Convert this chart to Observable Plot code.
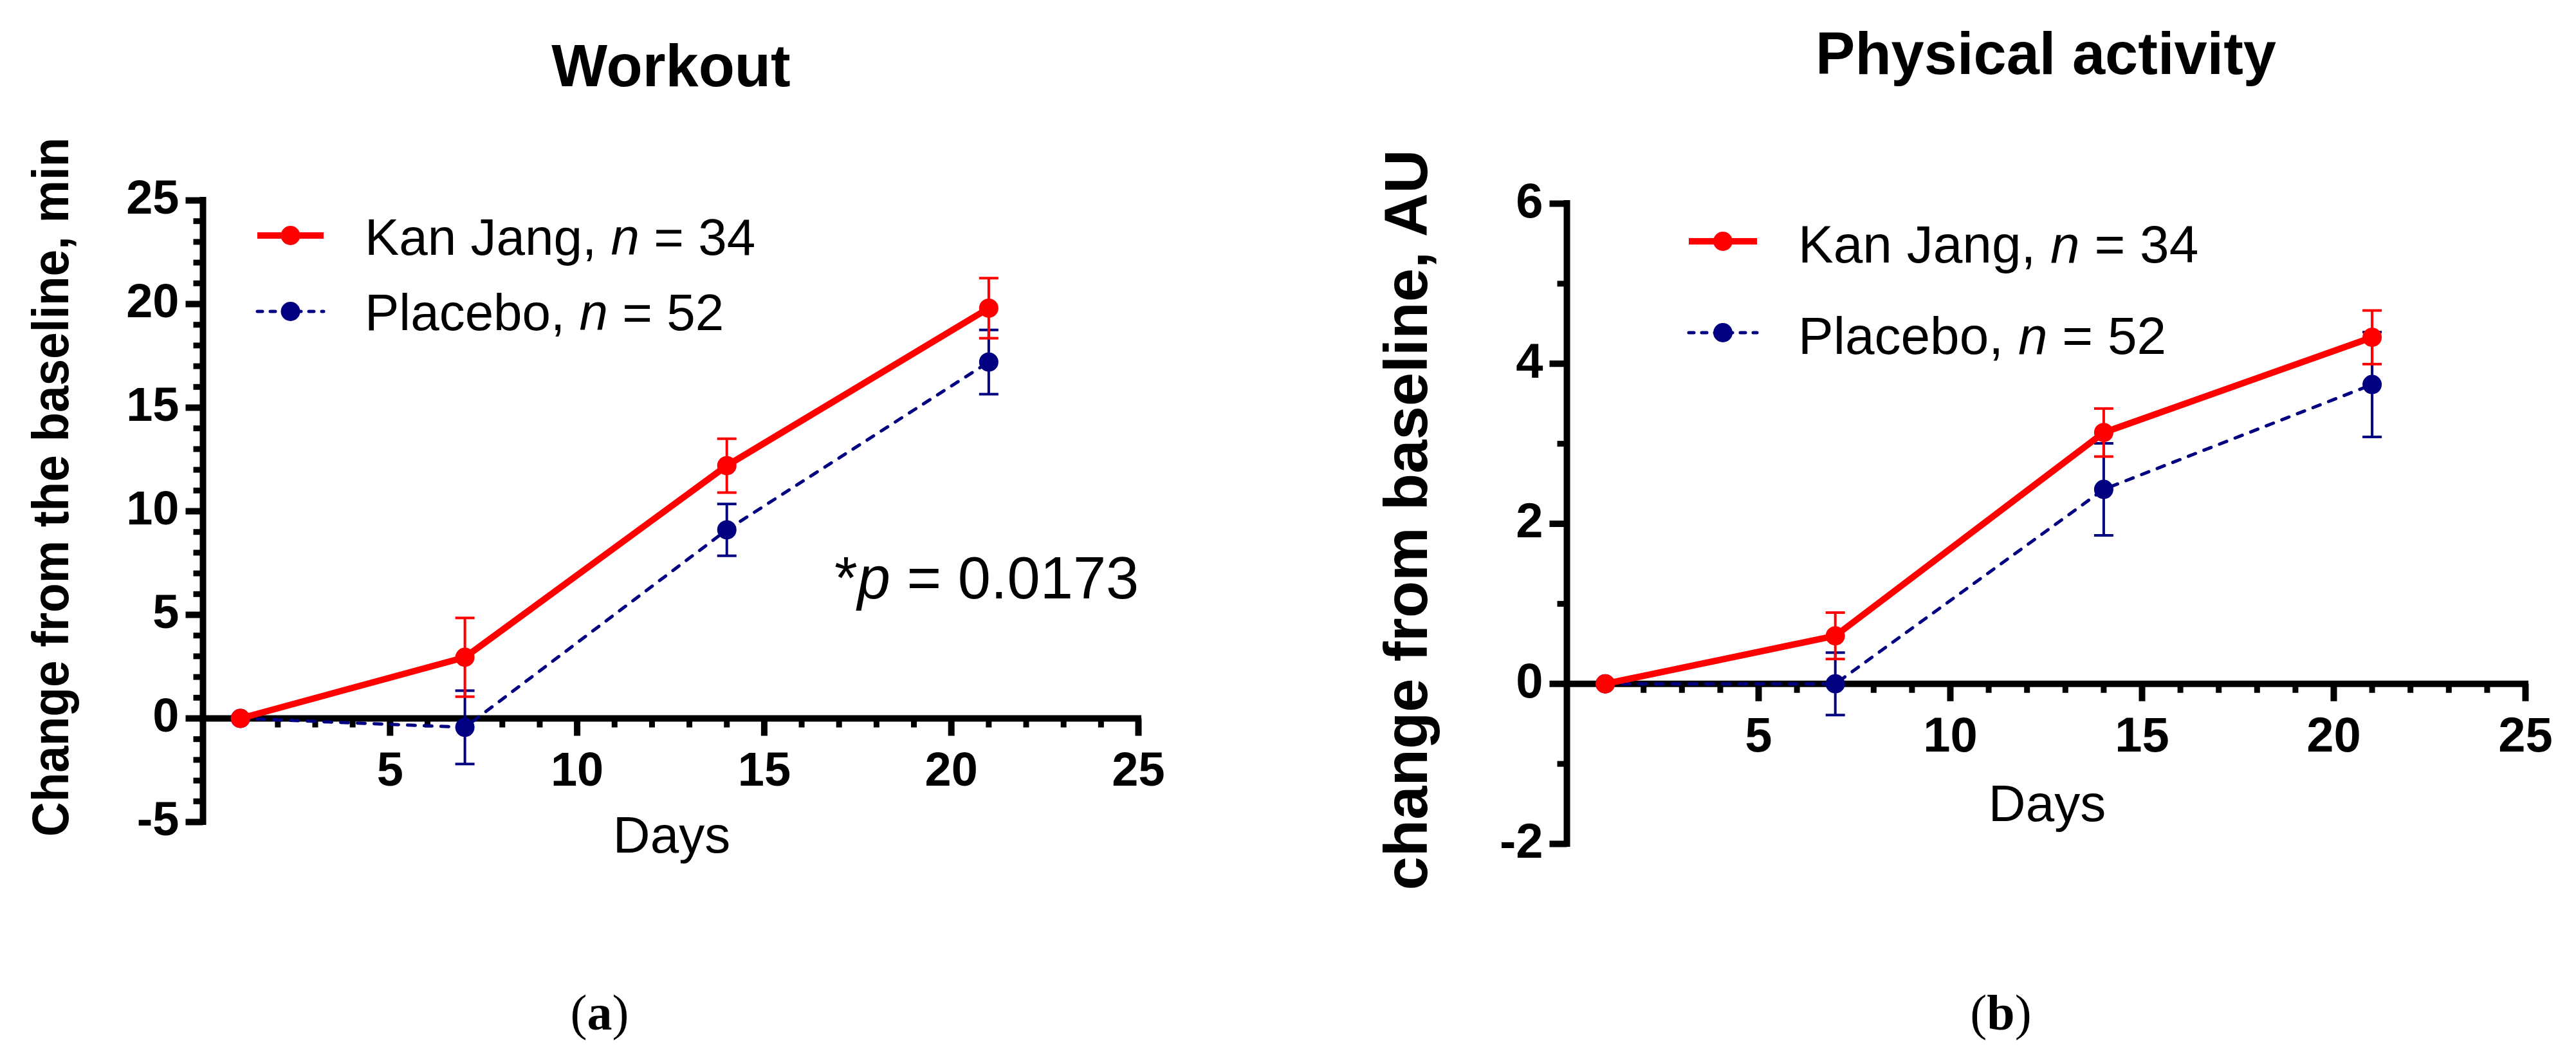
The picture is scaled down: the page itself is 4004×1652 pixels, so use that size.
<!DOCTYPE html>
<html>
<head>
<meta charset="utf-8">
<script src="https://cdn.jsdelivr.net/npm/d3@7"></script>
<script src="https://cdn.jsdelivr.net/npm/@observablehq/plot@0.6"></script>
<style>
  html, body { margin: 0; padding: 0; background: #fff; }
  #page { position: relative; width: 4004px; height: 1652px; overflow: hidden; background: #fff; }
  .panel { position: absolute; top: 0; width: 2002px; height: 1652px; }
  #overlay { position: absolute; left: 0; top: 0; }
</style>
</head>
<body>
<div id="page">
  <div class="panel" id="panelA" style="left:0px"></div>
  <div class="panel" id="panelB" style="left:2002px"></div>
</div>
<script>
// ---------------- data ----------------
const days = [1, 7, 14, 21];

// (a) Workout, change from the baseline (min)
const workoutKanJang    = [0, 2.95, 12.2, 19.8];
const workoutKanJangErr = [0, 1.9, 1.3, 1.45];
const workoutPlacebo    = [0, -0.43, 9.1, 17.2];
const workoutPlaceboErr = [0, 1.77, 1.25, 1.55];

// (b) Physical activity, change from baseline (AU)
const activityKanJang    = [0, 0.6, 3.14, 4.33];
const activityKanJangErr = [0, 0.29, 0.30, 0.335];
const activityPlacebo    = [0, 0, 2.43, 3.74];
const activityPlaceboErr = [0, 0.39, 0.575, 0.655];

// tick labels
const xTickLabels = [5, 10, 15, 20, 25];
const yTickLabelsA = [-5, 0, 5, 10, 15, 20, 25];
const yTickLabelsB = [-2, 0, 2, 4, 6];

const seriesNames = ["Kan Jang, ", "Placebo, "];
const seriesN = [34, 52];

// ---------------- styles ----------------
const RED = "#ff0000";
const NAVY = "#000080";
const SANS = "'Liberation Sans', Arial, Helvetica, sans-serif";
const SERIF = "'Liberation Serif', 'Times New Roman', serif";

const tickShape = {draw(ctx, l) { ctx.moveTo(0, 0); ctx.lineTo(0, -l); }};
const capShape = {draw(ctx, l) { ctx.moveTo(-l / 2, 0); ctx.lineTo(l / 2, 0); }};

function rowsOf(vals, errs) {
  return days.map((d, i) => ({day: d, value: vals[i], err: errs[i], lo: vals[i] - errs[i], hi: vals[i] + errs[i]}));
}
function capsOf(rows) {
  return rows.filter(r => r.err > 0).flatMap(r => [{day: r.day, y: r.lo}, {day: r.day, y: r.hi}]);
}

function seriesMarks(rows, color, solid) {
  const withErr = rows.filter(r => r.err > 0);
  return [
    Plot.line(rows, {x: "day", y: "value", stroke: color,
      strokeWidth: solid ? 10 : 5,
      strokeDasharray: solid ? null : "12,14",
      strokeLinecap: solid ? "butt" : "round", strokeLinejoin: "round"}),
    Plot.ruleX(withErr, {x: "day", y1: "lo", y2: "hi", stroke: color, strokeWidth: 4}),
    Plot.vector(capsOf(rows), {x: "day", y: "y", length: 30, shape: capShape, anchor: "start",
      stroke: color, strokeWidth: 4, strokeLinecap: "butt"}),
    Plot.dot(rows, {x: "day", y: "value", r: 15, fill: color, stroke: null})
  ];
}

function buildPanel({kj, kjErr, pl, plErr, yDomain, yMajor, margins, tickFont}) {
  const kjRows = rowsOf(kj, kjErr);
  const plRows = rowsOf(pl, plErr);
  const xMinor = d3.range(1, 25).filter(v => v % 5 !== 0);
  const yMinor = d3.range(yDomain[0], yDomain[1]).filter(v => !yMajor.includes(v));
  const axisStyle = {stroke: "#000", strokeLinecap: "butt"};
  return Plot.plot({
    width: 2002,
    height: 1652,
    ...margins,
    x: {domain: [0, 25], axis: null},
    y: {domain: yDomain, axis: null},
    style: {background: "transparent", overflow: "visible"},
    marks: [
      // axes lines
      Plot.ruleY([0], {x1: 0, x2: 25, stroke: "#000", strokeWidth: 10, strokeLinecap: "square"}),
      Plot.ruleX([0], {y1: yDomain[0], y2: yDomain[1], stroke: "#000", strokeWidth: 10, strokeLinecap: "square"}),
      // x ticks
      Plot.vector(xTickLabels, {x: d => d, y: () => 0, rotate: 180, length: 27, shape: tickShape, anchor: "start", strokeWidth: 10, ...axisStyle}),
      Plot.vector(xMinor, {x: d => d, y: () => 0, rotate: 180, length: 14, shape: tickShape, anchor: "start", strokeWidth: 9, ...axisStyle}),
      // y ticks
      Plot.vector(yMajor, {x: () => 0, y: d => d, rotate: -90, length: 27, shape: tickShape, anchor: "start", strokeWidth: 10, ...axisStyle}),
      Plot.vector(yMinor, {x: () => 0, y: d => d, rotate: -90, length: 15, shape: tickShape, anchor: "start", strokeWidth: 9, ...axisStyle}),
      // tick labels
      Plot.text(xTickLabels, {x: d => d, y: () => 0, text: d => String(d), dy: 81, lineAnchor: "middle",
        fontSize: tickFont, fontWeight: "bold", fontFamily: SANS, fill: "#000"}),
      Plot.text(yMajor, {x: () => 0, y: d => d, text: d => String(d), dx: -37, dy: -3, textAnchor: "end", lineAnchor: "middle",
        fontSize: tickFont, fontWeight: "bold", fontFamily: SANS, fill: "#000"}),
      // data
      ...seriesMarks(plRows, NAVY, false),
      ...seriesMarks(kjRows, RED, true)
    ]
  });
}

document.getElementById("panelA").appendChild(buildPanel({
  kj: workoutKanJang, kjErr: workoutKanJangErr, pl: workoutPlacebo, plErr: workoutPlaceboErr,
  yDomain: [-5, 25], yMajor: yTickLabelsA,
  margins: {marginLeft: 315, marginRight: 233, marginTop: 311, marginBottom: 375},
  tickFont: 74
}));
document.getElementById("panelB").appendChild(buildPanel({
  kj: activityKanJang, kjErr: activityKanJangErr, pl: activityPlacebo, plErr: activityPlaceboErr,
  yDomain: [-2, 6], yMajor: yTickLabelsB,
  margins: {marginLeft: 433, marginRight: 79, marginTop: 316, marginBottom: 341},
  tickFont: 76
}));

// ---------------- overlay: titles, labels, legends ----------------
const svg = d3.select("#page").append("svg")
  .attr("id", "overlay").attr("width", 4004).attr("height", 1652)
  .attr("font-family", SANS);

function txt(x, y, s, size, weight, anchor) {
  return svg.append("text").attr("x", x).attr("y", y).attr("font-size", size)
    .attr("font-weight", weight || "normal").attr("text-anchor", anchor || "start").attr("fill", "#000").text(s);
}

// titles
txt(1043, 134, "Workout", 92, "bold", "middle");
txt(3180, 115, "Physical activity", 92, "bold", "middle");

// y labels
svg.append("text").attr("transform", "translate(106,757) rotate(-90) scale(0.933,1)")
  .attr("text-anchor", "middle").attr("font-size", 80).attr("font-weight", "bold").text("Change from the baseline, min");
svg.append("text").attr("transform", "translate(2218,808) rotate(-90)")
  .attr("text-anchor", "middle").attr("font-size", 94).attr("font-weight", "bold").text("change from baseline, AU");

// x labels
txt(1044, 1325, "Days", 80, "normal", "middle");
txt(3182, 1276, "Days", 80, "normal", "middle");

// captions
function caption(x, letter) {
  const t = svg.append("text").attr("x", x).attr("y", 1600).attr("text-anchor", "middle")
    .attr("font-family", SERIF).attr("font-size", 78);
  t.append("tspan").text("(");
  t.append("tspan").attr("font-weight", "bold").text(letter);
  t.append("tspan").text(")");
}
caption(932, "a");
caption(3110, "b");

// p value
{
  const t = svg.append("text").attr("x", 1297).attr("y", 930).attr("font-size", 92);
  t.append("tspan").text("*");
  t.append("tspan").attr("font-style", "italic").text("p");
  t.append("tspan").text(" = 0.0173");
}

// legends
function legend(x0, x1, ys, textX, baselines, size) {
  const colors = [RED, NAVY];
  ys.forEach((y, i) => {
    const g = svg.append("g");
    g.append("line").attr("x1", x0).attr("x2", x1).attr("y1", y).attr("y2", y)
      .attr("stroke", colors[i]).attr("stroke-width", i === 0 ? 10 : 5)
      .attr("stroke-dasharray", i === 0 ? null : "8,12").attr("stroke-linecap", i === 0 ? "butt" : "round");
    g.append("circle").attr("cx", (x0 + x1) / 2).attr("cy", y).attr("r", 15).attr("fill", colors[i]);
    const t = svg.append("text").attr("x", textX).attr("y", baselines[i]).attr("font-size", size);
    t.append("tspan").text(seriesNames[i]);
    t.append("tspan").attr("font-style", "italic").text("n");
    t.append("tspan").text(" = " + seriesN[i]);
  });
}
legend(400, 503, [366, 484], 567, [396, 513], 80);
legend(2625, 2731, [375, 517], 2795, [408, 550], 82);
</script>
</body>
</html>
